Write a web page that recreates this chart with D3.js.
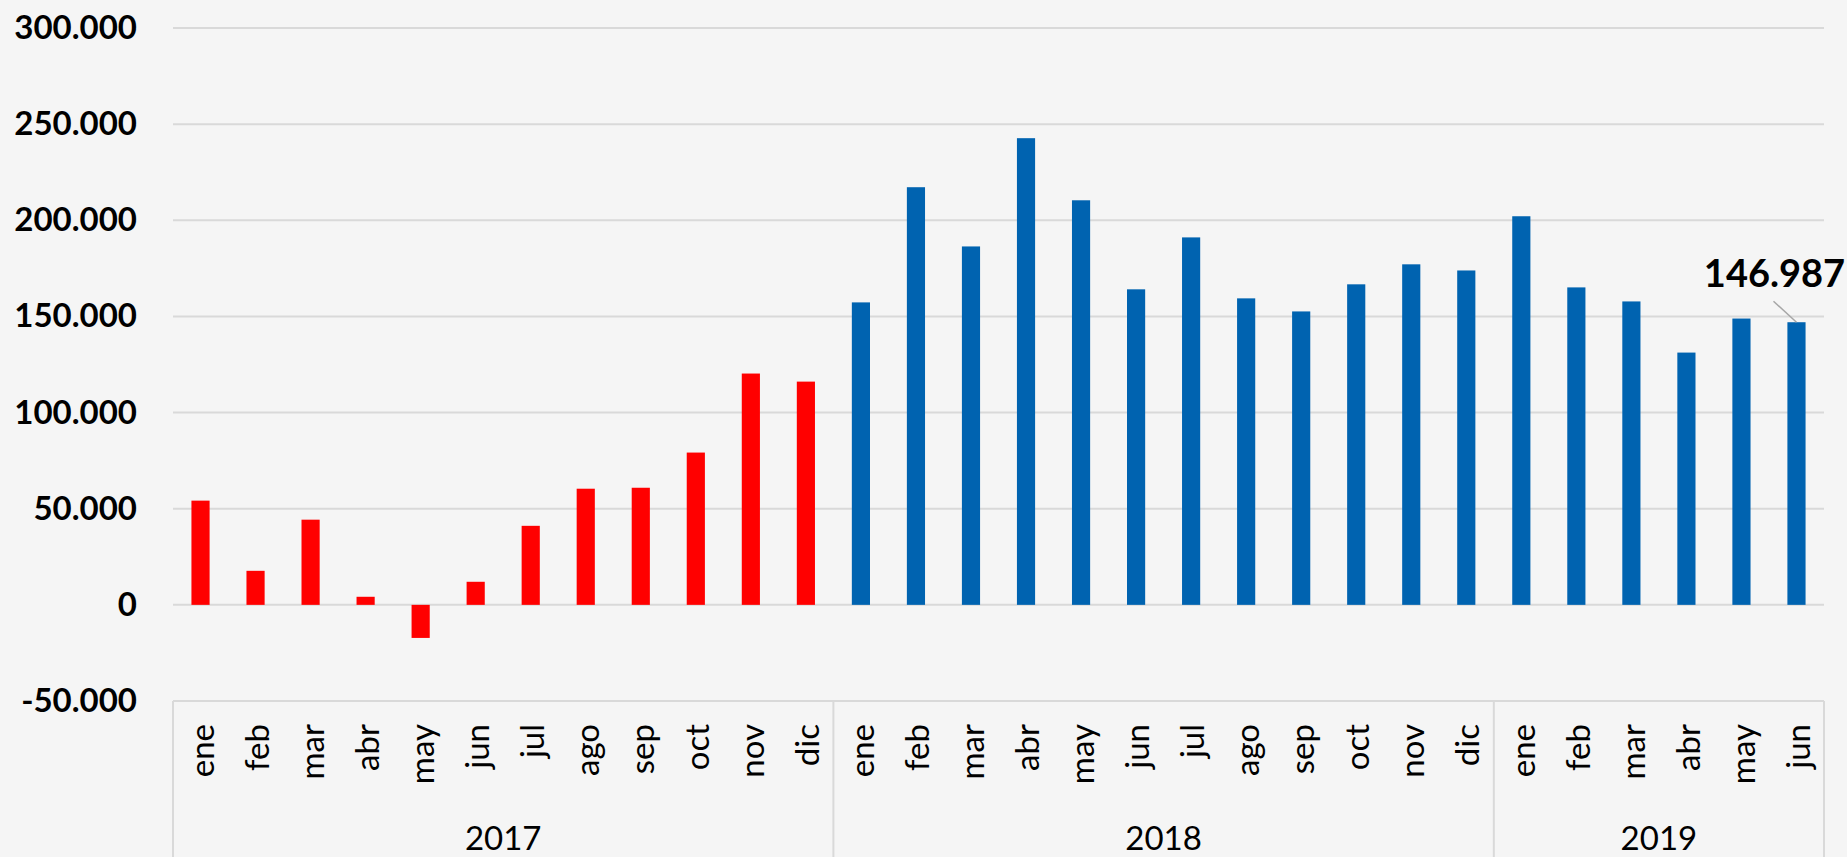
<!DOCTYPE html>
<html lang="es">
<head>
    <meta charset="UTF-8">
    <title>Serie mensual 2017-2019</title>
    <script src="https://cdn.jsdelivr.net/npm/d3@7"></script>
    <style>
        html, body { margin: 0; padding: 0; background: #f5f5f5; }
        svg { display: block; }
    </style>
</head>
<body>
<svg width="1847" height="857"></svg>
<script>
    // datos
    const months = ["ene","feb","mar","abr","may","jun","jul","ago","sep","oct","nov","dic"]
    const years = ["2017","2018","2019"]
    const values2017 = [54200, 17700, 44300, 4200, -17200, 12000, 41100, 60400, 60900, 79200, 120300, 116100]
    const values2018 = [157300, 217200, 186400, 242700, 210400, 164100, 191100, 159400, 152600, 166700, 177100, 173900]
    const values2019 = [202100, 165100, 157800, 131200, 148900, 146987]
    const yTicks = [-50000, 0, 50000, 100000, 150000, 200000, 250000, 300000]

    const seriesByYear = [values2017, values2018, values2019]
    const barColors = {"2017": "#ff0000", "2018": "#0063b0", "2019": "#0063b0"}

    const rows = []
    seriesByYear.forEach((vals, yi) => {
        vals.forEach((v, mi) => rows.push({key: years[yi] + "-" + mi, year: years[yi], month: months[mi], value: v}))
    })

    const plotLeft = 173, plotRight = 1824, plotTop = 28, plotBottom = 701
    const font = "Lato, 'Liberation Sans', sans-serif"

    const locale = d3.formatLocale({decimal: ",", thousands: ".", grouping: [3], currency: ["", "€"], minus: "-"})
    const fmt = locale.format(",d")

    const x = d3.scaleBand()
        .domain(rows.map(d => d.key))
        .range([plotLeft, plotRight])
        .paddingInner(0.67)
        .paddingOuter(0.335)

    const y = d3.scaleLinear()
        .domain([-50000, 300000])
        .range([plotBottom, plotTop])

    const svg = d3.select("svg")

    // lineas de cuadricula
    svg.append("g").selectAll("line")
        .data(yTicks)
        .join("line")
        .attr("x1", plotLeft).attr("x2", plotRight)
        .attr("y1", d => y(d)).attr("y2", d => y(d))
        .attr("stroke", "#d9d9d9")
        .attr("stroke-width", 2)

    // eje y con etiquetas
    const yAxis = svg.append("g")
        .attr("transform", `translate(${plotLeft},0)`)
        .call(d3.axisLeft(y).tickValues(yTicks).tickSize(0).tickPadding(36).tickFormat(fmt))
    yAxis.select(".domain").remove()
    yAxis.selectAll("text")
        .attr("font-family", font)
        .attr("font-weight", "bold")
        .attr("font-size", 33)
        .attr("fill", "#000")

    // barras
    svg.append("g").selectAll("rect")
        .data(rows)
        .join("rect")
        .attr("x", d => x(d.key))
        .attr("width", x.bandwidth())
        .attr("y", d => y(Math.max(0, d.value)))
        .attr("height", d => Math.abs(y(d.value) - y(0)))
        .attr("fill", d => barColors[d.year])

    // caja de categorias
    const step = x.step()
    const boundaries = [0]
    let acc = 0
    seriesByYear.forEach(v => { acc += v.length; boundaries.push(acc) })

    svg.append("g").selectAll("line")
        .data(boundaries)
        .join("line")
        .attr("x1", d => plotLeft + d * step).attr("x2", d => plotLeft + d * step)
        .attr("y1", plotBottom).attr("y2", 857)
        .attr("stroke", "#d9d9d9")
        .attr("stroke-width", 2)

    // meses
    svg.append("g").selectAll("text")
        .data(rows)
        .join("text")
        .attr("transform", d => `translate(${x(d.key) + x.bandwidth() / 2},724) rotate(-90)`)
        .attr("dy", "0.4em")
        .attr("text-anchor", "end")
        .attr("font-family", font)
        .attr("font-size", 33)
        .attr("fill", "#000")
        .text(d => d.month)

    // anos
    svg.append("g").selectAll("text")
        .data(years)
        .join("text")
        .attr("x", (d, i) => plotLeft + (boundaries[i] + boundaries[i + 1]) / 2 * step)
        .attr("y", 850)
        .attr("text-anchor", "middle")
        .attr("font-family", font)
        .attr("font-size", 33)
        .attr("fill", "#000")
        .text(d => d)

    // etiqueta del ultimo dato
    const last = rows[rows.length - 1]
    const lx = x(last.key) + x.bandwidth() / 2
    svg.append("line")
        .attr("x1", lx - 23).attr("y1", y(last.value) - 21)
        .attr("x2", lx).attr("y2", y(last.value))
        .attr("stroke", "#a6a6a6")
        .attr("stroke-width", 1.5)
    svg.append("text")
        .attr("x", lx - 22)
        .attr("y", y(last.value) - 35)
        .attr("text-anchor", "middle")
        .attr("font-family", font)
        .attr("font-weight", "bold")
        .attr("font-size", 38)
        .attr("fill", "#000")
        .text(fmt(last.value))
</script>
</body>
</html>
